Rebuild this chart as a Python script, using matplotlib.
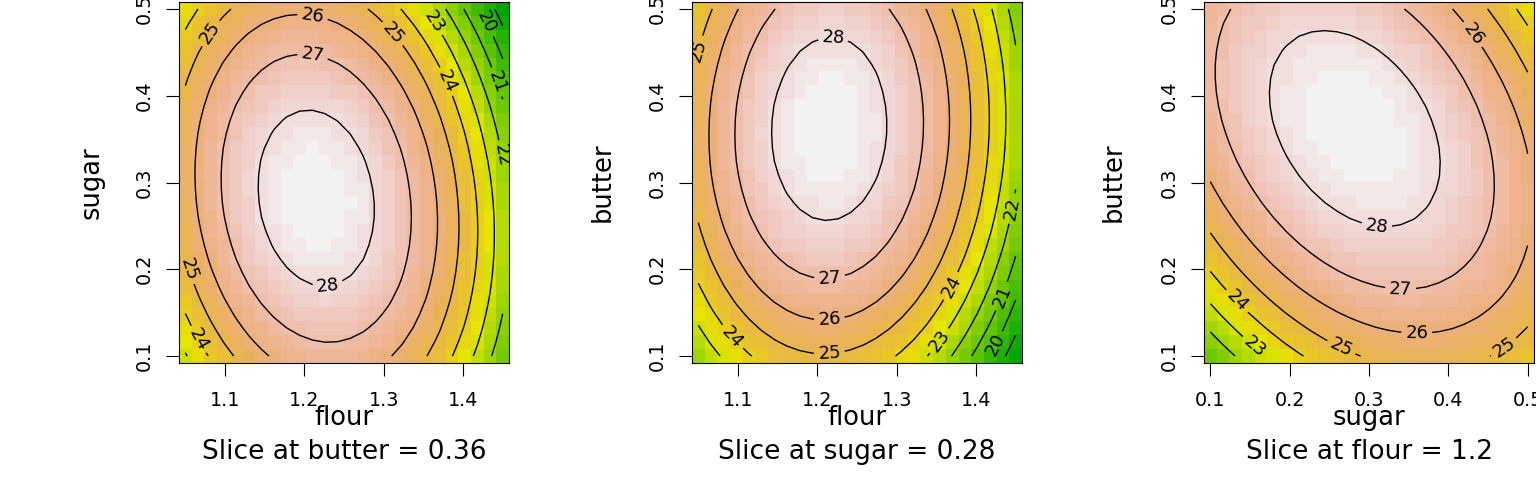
import colorsys
import numpy as np
import matplotlib
matplotlib.use('Agg')
import matplotlib.pyplot as plt
from matplotlib.colors import ListedColormap

# design factors and their coded ranges
factors = ['flour', 'sugar', 'butter']
lower = [1.05, 0.1, 0.1]
upper = [1.45, 0.5, 0.5]

# fitted second-order surface, written in stationary (canonical) form
stat_point = [1.215, 0.282, 0.362]
peak = 28.6
hessian = [[226, 22, -6],
           [22, 118, 40],
           [-6, 40, 107]]

# panels: (x factor, y factor, factor held at the stationary point)
panels = [(0, 1, 2), (0, 2, 1), (1, 2, 0)]
x_ticks = [[1.1, 1.2, 1.3, 1.4], [1.1, 1.2, 1.3, 1.4], [0.1, 0.2, 0.3, 0.4, 0.5]]
y_ticks = [0.1, 0.2, 0.3, 0.4, 0.5]
levels = np.arange(17, 30)
n_grid = 26

# contour labels: (level, rough spot) - the label is put on that level's line
label_spots = [
    [(26, 1.21, 0.49), (27, 1.21, 0.445), (28, 1.23, 0.18), (25, 1.085, 0.47),
     (25, 1.303, 0.465), (23, 1.355, 0.48), (24, 1.376, 0.415), (20, 1.42, 0.48),
     (21, 1.44, 0.415), (22, 1.442, 0.33), (25, 1.055, 0.2), (24, 1.068, 0.12)],
    [(25, 1.055, 0.45), (28, 1.22, 0.465), (27, 1.215, 0.195), (26, 1.215, 0.145),
     (25, 1.215, 0.105), (24, 1.09, 0.12), (24, 1.37, 0.18), (23, 1.35, 0.12),
     (22, 1.445, 0.27), (21, 1.43, 0.17), (20, 1.41, 0.12)],
    [(28, 0.31, 0.255), (27, 0.34, 0.18), (26, 0.36, 0.13), (25, 0.265, 0.11),
     (24, 0.13, 0.16), (23, 0.155, 0.11), (25, 0.47, 0.11), (26, 0.43, 0.47)],
]


def terrain_colors(n):
    # same recipe as R's terrain.colors()
    k = n // 2
    h = np.r_[np.linspace(4/12, 2/12, k), np.linspace(2/12, 0, n - k + 1)[1:]]
    s = np.r_[np.linspace(1, 1, k), np.linspace(1, 0, n - k + 1)[1:]]
    v = np.r_[np.linspace(0.65, 0.9, k), np.linspace(0.9, 0.95, n - k + 1)[1:]]
    return [colorsys.hsv_to_rgb(a, b, c) for a, b, c in zip(h, s, v)]


def surface(pts):
    d = pts - np.array(stat_point)
    H = np.array(hessian, float)
    return peak - 0.5 * np.einsum('...i,ij,...j->...', d, H, d)


# evaluate every slice on its grid
grids = []
for xi, yi, si in panels:
    xs = np.linspace(lower[xi], upper[xi], n_grid)
    ys = np.linspace(lower[yi], upper[yi], n_grid)
    X, Y = np.meshgrid(xs, ys)
    pts = np.tile(np.array(stat_point, float), X.shape + (1,))
    pts[..., xi] = X
    pts[..., yi] = Y
    grids.append((xs, ys, surface(pts)))

zmin = min(g[2].min() for g in grids)
zmax = max(g[2].max() for g in grids)
cmap = ListedColormap(terrain_colors(50))

W, Hpx = 1536, 480
fig = plt.figure(figsize=(W / 100, Hpx / 100), dpi=100)
lefts = [179, 692, 1204]
top, bottom, width = 2, 363, 330

for k, (xi, yi, si) in enumerate(panels):
    xs, ys, Z = grids[k]
    ax = fig.add_axes([lefts[k] / W, 1 - bottom / Hpx, width / W, (bottom - top) / Hpx])
    ax.pcolormesh(xs, ys, Z, shading='nearest', cmap=cmap, vmin=zmin, vmax=zmax)

    dx = (xs[1] - xs[0]) / 2
    dy = (ys[1] - ys[0]) / 2
    ax.set_xlim(xs[0] - dx, xs[-1] + dx)
    ax.set_ylim(ys[0] - dy, ys[-1] + dy)

    # one contour set per level, so each label lands on its own line
    for lev in levels:
        if not (Z.min() < lev < Z.max()):
            continue
        cs = ax.contour(xs, ys, Z, levels=[lev], colors='black', linewidths=1.0)
        spots = [(lx, ly) for l, lx, ly in label_spots[k] if l == lev]
        if spots:
            ax.clabel(cs, fmt='%d', fontsize=13, inline=True, inline_spacing=4,
                      manual=spots)

    ax.set_xticks(x_ticks[k])
    ax.set_yticks(y_ticks)
    ax.set_xticklabels([f'{t:g}' for t in x_ticks[k]])
    ax.set_yticklabels([f'{t:g}' for t in y_ticks], rotation=90, va='center')
    ax.tick_params(direction='out', length=9.5, width=0.8, labelsize=13.8, colors='black')
    ax.tick_params(axis='x', pad=11)
    ax.tick_params(axis='y', pad=9)
    for sp in ax.spines.values():
        sp.set_linewidth(0.8)

    ax.text(0.5, -(418 - bottom) / (bottom - top), factors[xi], transform=ax.transAxes,
            ha='center', va='center', fontsize=18.5)
    ax.text(0.5, -(452 - bottom) / (bottom - top),
            f'Slice at {factors[si]} = {stat_point[si]:.2g}', transform=ax.transAxes,
            ha='center', va='center', fontsize=19)
    ax.text(-(lefts[k] - (92 + 511 * k)) / width, 0.5, factors[yi], transform=ax.transAxes,
            ha='center', va='center', rotation=90, fontsize=18.5)

fig.savefig('out.png', dpi=100)
